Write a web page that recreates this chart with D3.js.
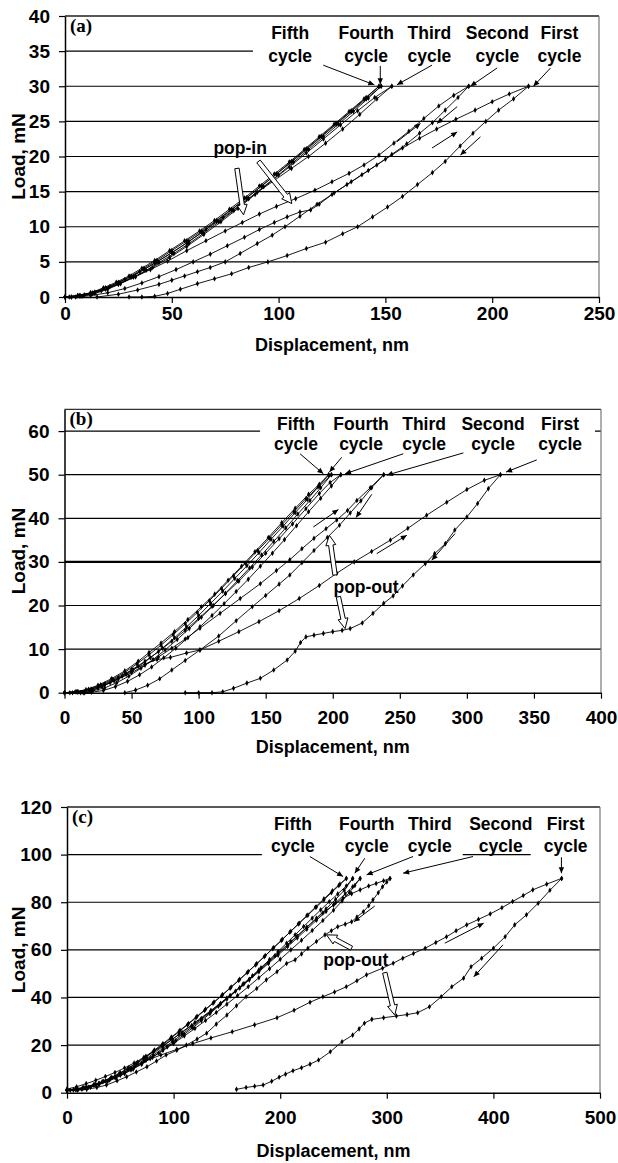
<!DOCTYPE html>
<html><head><meta charset="utf-8">
<script src="https://cdn.jsdelivr.net/npm/d3@7"></script>
<style>body{margin:0;background:#fff}svg{display:block}</style>
</head><body>
<svg id="chart" width="618" height="1163"></svg>
<script>
// ---------------- DATA ----------------
const cycleNames = ["Fifth", "Fourth", "Third", "Second", "First"];

// Panel (a) : peak load 30 mN  [displacement nm, load mN]
const aFirstUpper = [[15,0],[25,0.4],[34,1],[44,1.8],[50,2.4],[56,3],[62,3.6],[68,4.2],[75,5],[82,6.2],[90,7.6],[97,8.8],[103,10],[110,11.5],[118,13.2],[126,14.8],[134,16.4],[142,18],[150,19.6],[158,21.2],[166,22.6],[174,23.9],[183,25.3],[192,26.6],[200,27.8],[208,28.9],[217,30]];
const aFirstLower = [[30,0],[36,0],[42,0.1],[48,0.5],[54,1.1],[62,1.9],[70,2.6],[78,3.3],[86,4.2],[95,5],[104,5.9],[113,6.9],[122,7.8],[130,9],[137,10],[144,11.4],[151,12.8],[158,14.3],[165,16],[172,17.7],[178,19.3],[185,21.5],[191,23.3],[197,25],[203,26.6],[210,28.2],[217,30]];
const aSecondUpper = [[0,0],[6,0.2],[12,0.6],[19,1.2],[26,2],[33,2.9],[40,3.9],[48,5.1],[57,6.6],[66,8],[75,9.4],[83,10.6],[91,11.8],[99,12.9],[108,14],[117,15.2],[125,16.4],[133,17.6],[140,18.8],[147,20.2],[154,21.9],[161,23.6],[168,25.4],[175,27.2],[182,28.7],[189,30]];
const aSecondLower = [[5,0],[12,0.2],[20,0.6],[28,1.2],[36,2],[44,2.9],[52,3.9],[60,5],[68,6.1],[76,7.3],[84,8.5],[91,9.6],[98,10.6],[104,11.4],[110,12.1],[115,12.4],[119,13.2],[125,14.6],[132,16],[139,17.4],[146,18.8],[153,20.3],[160,21.8],[166,23.3],[172,24.8],[178,26.6],[184,28.4],[189,30]];
const aThirdUpper = [[0,0],[7,0.2],[14,0.7],[21,1.5],[28,2.5],[35,3.6],[42,4.8],[50,6.3],[58,7.9],[66,9.6],[74,11.3],[82,13.1],[90,14.9],[98,16.6],[106,18.3],[114,20],[122,21.9],[130,23.9],[138,26],[146,28.2],[153,30]];
const aThirdLower = [[153,30],[145,28.4],[137,26.5],[129,24.5],[121,22.5],[113,20.5],[105,18.5],[97,16.6],[89,14.6],[81,12.6],[73,10.7],[65,8.9],[57,7.2],[49,5.6],[41,4.2],[33,2.9],[25,1.8],[17,0.9],[9,0.3],[3,0]];
const aFourthUpper = [[0,0],[6,0.2],[12,0.6],[18,1.3],[24,2.1],[30,3],[36,4.1],[42,5.2],[49,6.6],[56,8],[63,9.4],[70,10.9],[77,12.5],[84,14.1],[91,15.8],[98,17.5],[105,19.2],[112,21],[119,22.8],[126,24.6],[133,26.4],[140,28.2],[147,30]];
const aFourthLower = [[147,30],[141,28.4],[134,26.5],[127,24.7],[120,22.9],[113,21.1],[106,19.3],[99,17.5],[92,15.8],[85,14.1],[78,12.4],[71,10.8],[64,9.2],[57,7.7],[50,6.3],[43,5],[37,3.9],[31,2.8],[25,1.9],[19,1.1],[13,0.5],[7,0.1],[2,0]];
const aFifthUpper = [[0,0],[7,0.2],[13,0.6],[19,1.3],[25,2.1],[31,3],[37,4.1],[43,5.2],[50,6.6],[57,8],[64,9.4],[71,10.9],[78,12.5],[85,14.1],[92,15.8],[99,17.5],[106,19.2],[113,21],[120,22.8],[127,24.6],[134,26.4],[141,28.2],[148,30]];
const aFifthLower = [[148,30],[142,28.3],[135,26.4],[128,24.6],[121,22.8],[114,21],[107,19.2],[100,17.4],[93,15.7],[86,14],[79,12.3],[72,10.7],[65,9.1],[58,7.6],[51,6.2],[44,4.9],[38,3.8],[32,2.8],[26,1.9],[20,1.1],[14,0.5],[8,0.1],[3,0]];
const aXTicks = [0, 50, 100, 150, 200, 250];
const aYTicks = [0, 5, 10, 15, 20, 25, 30, 35, 40];
const aLabelPos = [[105.4,36.7],[141,36.7],[170.6,36.7],[202.4,36.7],[231.5,36.7]];
const aPointers = [[120.9,33.0,144.8,30.2],[147.6,32.9,147.6,30.3],[171.8,33.0,155.4,30.2],[202.3,32.6,189.8,30.0],[227.3,32.6,219.3,30.0]];
const aDirArrows = [[155.4,22.1,166.4,24.7],[183.6,27.1,174.2,24.7],[171.8,21.2,183.6,23.5],[194.5,22.8,185.1,20.2]];
const aNote = ["pop-in", 82, 20.4];
const aHollow = [[80.5,18.3,83.6,11.7],[90.6,19.3,106.2,13.3]];
const aCovers = [[88,250,33.6,39.6]];

// Panel (b) : peak load 50 mN
const bFirstUpper = [[15,0],[25,1],[34,2.3],[43,3.8],[51,5.3],[60,6.6],[69,7.6],[79,8.1],[91,9.1],[101,9.8],[115,11.8],[130,14],[145,16.3],[160,18.8],[175,21.6],[190,24.6],[203,27.4],[216,30],[229,32.4],[243,35],[256,37.7],[270,40.7],[285,43.7],[300,46.6],[313,48.7],[325,50]];
const bFirstLower = [[90,0],[100,0],[110,0],[118,0.2],[126,1],[136,2.2],[146,3.3],[156,5.2],[166,7.5],[172,9.5],[176,11.5],[180,12.8],[186,13.2],[193,13.6],[200,14],[207,14.3],[213,14.7],[222,16],[230,18.2],[238,20.5],[245,22.2],[252,24.5],[260,27],[269,29.6],[276,31.9],[284,34.2],[291,37.3],[300,40.3],[308,43.4],[316,46.8],[325,50]];
const bSecondUpper = [[0,0],[10,0.2],[20,0.8],[30,1.8],[40,3.1],[50,4.6],[60,6.3],[70,8.2],[80,10.2],[90,12.3],[101,14.8],[116,18.2],[131,21.6],[146,25],[158,28],[168,30.5],[177,33],[186,35.4],[195,37.6],[203,39.6],[211,41.8],[218,44.1],[228,47],[238,50]];
const bSecondLower = [[45,0],[53,0.6],[62,1.7],[71,3.2],[80,5.2],[90,7.4],[101,9.8],[115,13],[128,16.5],[140,19.7],[150,22.3],[160,24.9],[168,27],[177,29.8],[186,32.6],[196,35.6],[205,38.4],[213,41.2],[221,44],[229,47],[238,50]];
const bThirdUpper = [[0,0],[10,0.2],[20,0.8],[30,2],[40,3.5],[50,5.2],[60,7.2],[70,9.4],[80,11.8],[90,14.3],[100,17],[110,19.8],[120,22.7],[130,25.6],[140,28.8],[150,32],[160,35.3],[170,38.7],[180,42.2],[190,45.7],[198,48.2],[206,50]];
const bThirdLower = [[206,50],[199,47.4],[191,44.6],[182,41.5],[173,38.3],[164,35.1],[155,32],[146,29],[137,26],[128,23.2],[119,20.4],[110,17.7],[101,15.1],[92,12.6],[83,10.2],[74,8],[65,5.9],[56,4.1],[47,2.6],[38,1.4],[29,0.5],[20,0.1],[14,0]];
const bFourthUpper = [[0,0],[9,0.2],[18,0.8],[27,1.8],[36,3.1],[45,4.7],[54,6.6],[63,8.7],[72,10.9],[81,13.3],[90,15.8],[99,18.4],[108,21.1],[117,23.9],[126,26.8],[135,29.7],[144,32.6],[153,35.5],[162,38.5],[171,41.5],[180,44.5],[190,47.4],[199,50]];
const bFourthLower = [[199,50],[191,47],[183,44.1],[174,41],[165,37.8],[156,34.7],[147,31.6],[138,28.6],[129,25.7],[120,22.8],[111,20],[102,17.3],[93,14.7],[84,12.2],[75,9.8],[66,7.6],[57,5.6],[48,3.8],[39,2.3],[30,1.1],[21,0.4],[12,0],[6,0]];
const bFifthUpper = [[0,0],[8,0.2],[16,0.7],[25,1.7],[35,3.2],[45,5],[55,7.2],[63,9.2],[72,11.4],[82,14],[92,16.8],[102,19.7],[112,22.6],[122,25.8],[132,29],[142,32.3],[152,35.6],[162,39],[172,42.3],[182,45.5],[190,47.8],[197,50]];
const bFifthLower = [[197,50],[189,47.2],[181,44.3],[172,41.3],[163,38.2],[154,35.2],[145,32.1],[136,29.1],[127,26.2],[118,23.3],[109,20.5],[100,17.7],[91,15.1],[82,12.6],[73,10.2],[64,8],[55,6],[46,4.2],[37,2.7],[28,1.4],[19,0.5],[10,0.1],[4,0]];
const bXTicks = [0, 50, 100, 150, 200, 250, 300, 350, 400];
const bYTicks = [0, 10, 20, 30, 40, 50, 60];
const bLabelPos = [[172.6,60.2],[221.1,60.2],[268.1,60.2],[319.5,60.2],[369.5,60.2]];
const bPointers = [[175.6,54.8,193,50.2],[206.7,54.0,197.5,50.6],[252.6,54.8,209.2,50.2],[297.4,55,240.3,49.9],[352.1,53.4,329.2,50.6]];
const bDirArrows = [[185.5,38,204.2,42],[229.1,45.5,217.4,40.2],[232.8,31.9,255.2,36.1],[291.2,36.5,273.8,30.4]];
const bNote = ["pop-out", 224.8, 22.8];
const bHollow = [[201.7,27,197.5,36.1],[204.2,22,209.2,14.7]];
const bCovers = [[145.8,395.5,58,63]];

// Panel (c) : peak load 90 mN
const cFirstUpper = [[0,1],[15,2.2],[30,4],[45,6.6],[60,10],[74,13.5],[88,15.8],[103,18.2],[118,20.6],[135,23],[155,25.6],[176,28.5],[197,31.5],[213,34.6],[228,38],[240,40.3],[251,42.3],[262,44.5],[272,47],[281,49.5],[296,52.3],[306,54.4],[315,56.5],[325,58.5],[336,60.7],[346,63.1],[356,65.5],[365,68],[375,70.5],[386,72.8],[397,75.1],[408,77.7],[418,80.3],[428,82.8],[437,85.2],[450,87.6],[464,90]];
const cFirstLower = [[159,1.4],[168,2.2],[176,2.7],[184,3.2],[192,4.8],[199,6.5],[205,7.8],[212,9.2],[220,10.5],[228,12],[236,13.7],[247,17.2],[258,21.4],[268,24.2],[274,26.8],[279,29.2],[286,30.8],[297,31.5],[309,32.2],[319,32.8],[329,33.6],[340,36.1],[351,40.3],[361,44.5],[372,48.1],[379,52.9],[389,56.5],[400,60.7],[411,65.5],[420,70.5],[431,74.7],[442,79.6],[453,85],[464,90]];
const cSecondUpper = [[0,1],[15,2],[30,3.8],[45,6.6],[60,10.2],[75,14.5],[90,19.5],[105,24.5],[120,29.5],[135,34.5],[150,39.8],[165,45.5],[180,51.5],[195,57.5],[210,63.5],[225,69.5],[240,75.5],[250,78.8],[259,81.7],[267,83.6],[275,85.2],[283,86.8],[290,87.9],[297,89],[303,90]];
const cSecondLower = [[0,0.8],[10,1],[18.5,1.4],[28,2.2],[37,3.2],[47,5],[56,6.7],[65,8.7],[75,10.9],[84,13.3],[93,15.8],[103,17.8],[112,20],[122,22.5],[131,25],[140,28.8],[150,32.6],[159,36.5],[168,40.3],[178,43.8],[187,47.4],[197,50.8],[206,54.3],[214,55.8],[220,58.3],[226,60.7],[234,63.5],[242,66.3],[248,68],[254,69.7],[261,70.8],[267,71.8],[272,73.8],[278,76],[283,78.5],[287,81],[292,84],[296,86.5],[300,88.5],[303,90]];
const cThirdUpper = [[0,1],[10,1.4],[20,2.3],[30,3.6],[40,5.3],[50,7.3],[60,9.6],[70,12.1],[80,14.8],[90,17.7],[100,20.7],[110,23.8],[120,27],[130,30.3],[140,33.7],[150,37.2],[160,40.8],[170,44.5],[180,48.3],[190,52.1],[200,56],[210,60],[220,64],[230,68.1],[240,72.3],[250,76.6],[258,80.5],[265,84.2],[270,87],[275,90]];
const cThirdLower = [[275,90],[268,86.5],[261,83.5],[252,79.8],[243,76.1],[234,72.4],[225,68.7],[216,65],[207,61.4],[198,57.8],[189,54.3],[180,50.8],[171,47.4],[162,44],[153,40.7],[144,37.5],[135,34.3],[126,31.2],[117,28.2],[108,25.3],[99,22.5],[90,19.8],[81,17.2],[72,14.8],[63,12.5],[54,10.4],[45,8.5],[36,6.8],[27,5.2],[18,3.8],[9,2.5],[0,1.5]];
const cFourthUpper = [[0,1],[9,1.4],[18,2.2],[27,3.4],[36,4.9],[45,6.6],[54,8.6],[63,10.8],[72,13.2],[81,15.8],[90,18.6],[99,21.5],[108,24.5],[117,27.6],[126,30.8],[135,34],[144,37.3],[153,40.7],[162,44.1],[171,47.6],[180,51.1],[189,54.7],[198,58.3],[207,62],[216,65.7],[225,69.5],[234,73.3],[243,77.2],[252,81.2],[260,85],[268,90]];
const cFourthLower = [[268,90],[262,86.8],[254,83.5],[246,80.2],[238,76.8],[230,73.3],[222,69.8],[214,66.3],[206,62.8],[198,59.3],[190,55.9],[182,52.5],[174,49.1],[166,45.8],[158,42.6],[150,39.4],[142,36.3],[134,33.2],[126,30.2],[118,27.3],[110,24.5],[102,21.8],[94,19.2],[86,16.7],[78,14.3],[70,12],[62,9.9],[54,8],[46,6.2],[38,4.7],[30,3.4],[22,2.3],[14,1.5],[6,1.1],[0,1]];
const cFifthUpper = [[0,1],[8,1.4],[16,2.1],[25,3.3],[33,4.6],[41,6.2],[49,8],[57,10],[65,12.2],[73,14.6],[81,17.2],[89,19.9],[97,22.7],[105,25.6],[113,28.5],[121,31.5],[129,34.5],[137,37.6],[145,40.7],[153,43.9],[161,47.1],[169,50.4],[177,53.7],[185,57.1],[193,60.5],[201,63.9],[209,67.4],[217,70.9],[225,74.4],[233,77.9],[241,81.4],[249,84.8],[256,87.6],[262,90]];
const cFifthLower = [[262,90],[255,87],[248,84],[241,81],[234,78],[226,74.6],[218,71.2],[210,67.8],[202,64.4],[194,61],[186,57.6],[178,54.2],[170,50.9],[162,47.6],[154,44.4],[146,41.2],[138,38.1],[130,35.1],[122,32.1],[114,29.1],[106,26.2],[98,23.4],[90,20.6],[82,17.9],[74,15.3],[66,12.8],[58,10.5],[50,8.4],[42,6.5],[34,4.8],[26,3.4],[18,2.2],[10,1.4],[3,1]];
const cXTicks = [0, 100, 200, 300, 400, 500];
const cYTicks = [0, 20, 40, 60, 80, 100, 120];
const cLabelPos = [[211.9,110.4],[281.2,110.4],[340.3,110.4],[406.9,110.4],[467.8,110.4]];
const cPointers = [[227.8,99.2,259,90.8],[279.4,98.5,270,92.2],[324.6,99.2,281,91.5],[380.9,99.2,315.3,92.2],[463.8,98.9,463.8,92.2]];
const cDirArrows = [[288.7,78.4,269.1,71.8],[354.4,62.8,390.9,71.2],[409,62.1,381.6,48.7]];
const cNote = ["pop-out", 270.9, 53.2];
const cHollow = [[266.9,60.7,243.5,66.3],[298.1,50.4,307.5,32.6]];
const cCovers = [[182.8,371.2,97,104],[435,500,97,104]];

// ---------------- LAYOUT ----------------
const panels = [
  {tag:"(a)", xMax:250, yMax:40, left:65, right:599, top:16, bottom:297,
   xTicks:aXTicks, yTicks:aYTicks, xPad:4, titleY:351, labelDy:23, thick:[],
   series:[aFirstUpper,aFirstLower,aSecondUpper,aSecondLower,aThirdUpper,aThirdLower,aFourthUpper,aFourthLower,aFifthUpper,aFifthLower],
   labels:aLabelPos, pointers:aPointers, dirs:aDirArrows, note:aNote, hollow:aHollow, covers:aCovers},
  {tag:"(b)", xMax:400, yMax:65, left:64.5, right:601, top:409.3, bottom:692.7,
   xTicks:bXTicks, yTicks:bYTicks, xPad:12, titleY:753, labelDy:20, thick:[30],
   series:[bFirstUpper,bFirstLower,bSecondUpper,bSecondLower,bThirdUpper,bThirdLower,bFourthUpper,bFourthLower,bFifthUpper,bFifthLower],
   labels:bLabelPos, pointers:bPointers, dirs:bDirArrows, note:bNote, hollow:bHollow, covers:bCovers},
  {tag:"(c)", xMax:500, yMax:120, left:67, right:600, top:807, bottom:1092.7,
   xTicks:cXTicks, yTicks:cYTicks, xPad:12, titleY:1157, labelDy:22, thick:[],
   series:[cFirstUpper,cFirstLower,cSecondUpper,cSecondLower,cThirdUpper,cThirdLower,cFourthUpper,cFourthLower,cFifthUpper,cFifthLower],
   labels:cLabelPos, pointers:cPointers, dirs:cDirArrows, note:cNote, hollow:cHollow, covers:cCovers}
];

const svg = d3.select("#chart");
const FONT = "'Liberation Sans', Arial, Helvetica, sans-serif";

const defs = svg.append("defs");
defs.append("marker").attr("id","head").attr("viewBox","0 0 10 10")
  .attr("refX",10).attr("refY",5).attr("markerWidth",7).attr("markerHeight",6)
  .attr("markerUnits","userSpaceOnUse").attr("orient","auto")
  .append("path").attr("d","M0,0.5 L10,5 L0,9.5 Z").attr("fill","#000");

function hollowArrow(g, x0, y0, x1, y1) {
  const dx = x1 - x0, dy = y1 - y0, len = Math.hypot(dx, dy);
  const ux = dx/len, uy = dy/len, nx = -uy, ny = ux;
  const w = 2.2, hw = 5, hl = 10;
  const bx = x1 - ux*hl, by = y1 - uy*hl;
  const pts = [[x0+nx*w,y0+ny*w],[bx+nx*w,by+ny*w],[bx+nx*hw,by+ny*hw],[x1,y1],
               [bx-nx*hw,by-ny*hw],[bx-nx*w,by-ny*w],[x0-nx*w,y0-ny*w]];
  g.append("path").attr("d","M"+pts.map(p=>p.join(",")).join("L")+"Z")
    .attr("fill","#fff").attr("stroke","#000").attr("stroke-width",1);
}

panels.forEach(p => {
  const x = d3.scaleLinear().domain([0, p.xMax]).range([p.left, p.right]);
  const y = d3.scaleLinear().domain([0, p.yMax]).range([p.bottom, p.top]);
  const g = svg.append("g");

  // gridlines
  g.selectAll(".grid").data(p.yTicks.filter(t => t > 0)).enter().append("line")
    .attr("x1", x(0)).attr("x2", x(p.xMax)).attr("y1", d => y(d)).attr("y2", d => y(d))
    .attr("stroke", "#000").attr("stroke-width", d => p.thick.includes(d) ? 2.4 : 1.2);

  // white label backgrounds (hide gridline under the cycle labels)
  p.covers.forEach(c => {
    g.append("rect").attr("x", x(c[0])).attr("width", x(c[1]) - x(c[0]))
      .attr("y", y(c[3])).attr("height", y(c[2]) - y(c[3])).attr("fill", "#fff");
  });

  // frame
  g.append("line").attr("x1", x(0)).attr("x2", x(p.xMax)).attr("y1", y(p.yMax)).attr("y2", y(p.yMax))
    .attr("stroke", "#333").attr("stroke-width", 1.2);
  g.append("line").attr("x1", x(p.xMax)).attr("x2", x(p.xMax)).attr("y1", y(p.yMax)).attr("y2", y(0))
    .attr("stroke", "#777").attr("stroke-width", 1.2);

  // curves
  const line = d3.line().x(d => x(d[0])).y(d => y(d[1]));
  const sym = d3.symbol().type(d3.symbolDiamond).size(9);
  p.series.forEach(s => {
    g.append("path").attr("d", line(s)).attr("fill", "none")
      .attr("stroke", "#000").attr("stroke-width", 0.9);
    g.selectAll(null).data(s).enter().append("path")
      .attr("d", sym).attr("transform", d => `translate(${x(d[0])},${y(d[1])})`)
      .attr("fill", "#000");
  });

  // axes
  const xa = g.append("g").attr("transform", `translate(0,${y(0)})`)
    .call(d3.axisBottom(x).tickValues(p.xTicks).tickSize(6).tickSizeOuter(0).tickPadding(p.xPad));
  const ya = g.append("g").attr("transform", `translate(${x(0)},0)`)
    .call(d3.axisLeft(y).tickValues(p.yTicks).tickSize(6).tickSizeOuter(0).tickPadding(9));
  [xa, ya].forEach(a => {
    a.select(".domain").attr("stroke", "#000").attr("stroke-width", 1.5);
    a.selectAll(".tick line").attr("stroke", "#000").attr("stroke-width", 1.2);
    a.selectAll(".tick text").attr("font-family", FONT).attr("font-weight", "bold")
      .attr("font-size", 19).attr("fill", "#000");
  });

  // axis titles
  svg.append("text").attr("x", (p.left + p.right) / 2).attr("y", p.titleY)
    .attr("text-anchor", "middle").attr("font-family", FONT).attr("font-weight", "bold")
    .attr("font-size", 18).text("Displacement, nm");
  svg.append("text").attr("transform", `translate(25,${(p.top + p.bottom) / 2}) rotate(-90)`)
    .attr("text-anchor", "middle").attr("font-family", FONT).attr("font-weight", "bold")
    .attr("font-size", 19).text("Load, mN");

  // panel tag
  svg.append("text").attr("x", p.left + 5).attr("y", p.top + 16)
    .attr("font-family", "'Liberation Serif', 'Times New Roman', serif").attr("font-weight", "bold")
    .attr("font-size", 19).text(p.tag);

  // cycle labels
  p.labels.forEach((lp, i) => {
    const t = g.append("text").attr("text-anchor", "middle").attr("font-family", FONT)
      .attr("font-weight", "bold").attr("font-size", 17.5);
    t.append("tspan").attr("x", x(lp[0])).attr("y", y(lp[1])).text(cycleNames[i]);
    t.append("tspan").attr("x", x(lp[0])).attr("y", y(lp[1]) + p.labelDy).text("cycle");
  });

  // pointer arrows and direction arrows
  p.pointers.concat(p.dirs).forEach(a => {
    g.append("line").attr("x1", x(a[0])).attr("y1", y(a[1])).attr("x2", x(a[2])).attr("y2", y(a[3]))
      .attr("stroke", "#000").attr("stroke-width", 1).attr("marker-end", "url(#head)");
  });

  // pop-in / pop-out note
  g.append("text").attr("x", x(p.note[1])).attr("y", y(p.note[2])).attr("text-anchor", "middle")
    .attr("font-family", FONT).attr("font-weight", "bold").attr("font-size", 17.5).text(p.note[0]);
  p.hollow.forEach(a => hollowArrow(g, x(a[0]), y(a[1]), x(a[2]), y(a[3])));
});
</script>
</body></html>
